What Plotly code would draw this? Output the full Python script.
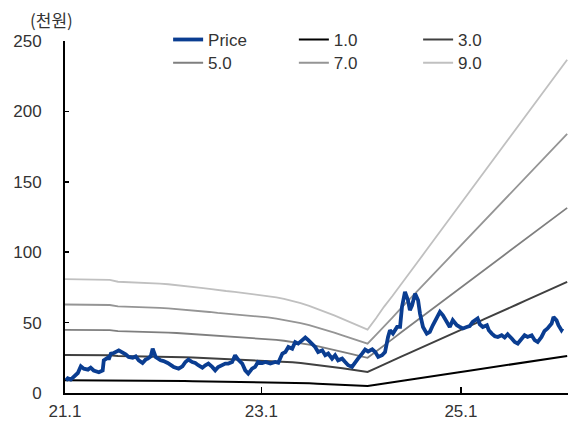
import plotly.graph_objects as go
import pandas as pd

# ---- data ----
price_dates = [
    "2021-01-15", "2021-01-22", "2021-02-02", "2021-02-13", "2021-02-28", "2021-03-11", "2021-03-22",
    "2021-04-06", "2021-04-16", "2021-04-27", "2021-05-16", "2021-05-30", "2021-06-03", "2021-06-18",
    "2021-06-21", "2021-06-29", "2021-07-10", "2021-07-28", "2021-08-11", "2021-08-22", "2021-09-02",
    "2021-09-17", "2021-09-28", "2021-10-09", "2021-10-23", "2021-11-03", "2021-11-11", "2021-11-22",
    "2021-11-29", "2021-12-10", "2021-12-28", "2022-01-08", "2022-01-23", "2022-02-03", "2022-02-14",
    "2022-03-04", "2022-03-18", "2022-03-29", "2022-04-09", "2022-04-23", "2022-05-04", "2022-05-15",
    "2022-05-30", "2022-06-10", "2022-06-21", "2022-07-05", "2022-07-16", "2022-07-27", "2022-08-11",
    "2022-08-22", "2022-09-02", "2022-09-16", "2022-09-27", "2022-10-08", "2022-10-23", "2022-11-03",
    "2022-11-14", "2022-11-28", "2022-12-09", "2022-12-20", "2023-01-05", "2023-01-16", "2023-02-03",
    "2023-02-21", "2023-03-04", "2023-03-19", "2023-03-30", "2023-04-10", "2023-04-24", "2023-05-05",
    "2023-05-16", "2023-05-31", "2023-06-11", "2023-06-22", "2023-07-06", "2023-07-17", "2023-07-28",
    "2023-08-12", "2023-08-23", "2023-09-03", "2023-09-17", "2023-09-28", "2023-10-09", "2023-10-24",
    "2023-11-04", "2023-11-15", "2023-11-29", "2023-12-10", "2023-12-21", "2024-01-05", "2024-01-16",
    "2024-01-27", "2024-02-11", "2024-02-22", "2024-03-04", "2024-03-18", "2024-03-29", "2024-04-09",
    "2024-04-16", "2024-04-27", "2024-05-12", "2024-05-23", "2024-05-30", "2024-06-10", "2024-06-21",
    "2024-06-28", "2024-07-06", "2024-07-17", "2024-07-28", "2024-08-04", "2024-08-15", "2024-08-29",
    "2024-09-09", "2024-09-20", "2024-10-05", "2024-10-16", "2024-10-27", "2024-11-10", "2024-11-21",
    "2024-12-02", "2024-12-17", "2024-12-28", "2025-01-08", "2025-01-22", "2025-02-02", "2025-02-13",
    "2025-02-21", "2025-03-03", "2025-03-11", "2025-03-22", "2025-04-06", "2025-04-13", "2025-04-24",
    "2025-05-05", "2025-05-16", "2025-05-30", "2025-06-10", "2025-06-21", "2025-07-06", "2025-07-17",
    "2025-07-28", "2025-08-11", "2025-08-22", "2025-09-02", "2025-09-17", "2025-09-28", "2025-10-09",
    "2025-10-23", "2025-11-03", "2025-11-14", "2025-11-29", "2025-12-06", "2025-12-17", "2025-12-24",
    "2026-01-04", "2026-01-08",
]
price_values = [
    9.0, 10.4, 9.5, 11.4, 14.2, 19.0, 17.3,
    16.6, 18.0, 16.0, 14.7, 16.0, 23.2, 25.1,
    23.7, 28.0, 28.4, 30.3, 28.9, 27.5, 25.6,
    25.1, 26.0, 23.2, 21.3, 23.7, 24.4, 26.0,
    31.5, 25.6, 23.2, 22.7, 21.3, 19.7, 18.5,
    17.3, 19.0, 22.0, 23.7, 22.0, 21.3, 19.7,
    18.0, 19.7, 20.9, 18.5, 16.1, 18.5, 19.7,
    20.9, 20.9, 22.0, 26.8, 23.7, 20.9, 16.1,
    13.8, 17.3, 18.5, 22.0, 21.3, 22.0, 20.9,
    22.0, 21.5, 28.0, 29.1, 32.7, 31.5, 36.2,
    35.1, 37.9, 39.4, 37.5, 35.1, 32.7, 29.1,
    30.3, 26.8, 28.0, 24.4, 26.8, 23.2, 24.4,
    22.0, 19.7, 18.5, 22.0, 24.4, 28.0, 30.8,
    29.5, 31.0, 29.1, 25.6, 26.8, 29.1, 39.8,
    44.6, 42.2, 46.9, 46.9, 61.1, 71.8, 65.9,
    58.8, 62.3, 70.6, 65.9, 56.4, 46.9, 42.2,
    43.4, 48.1, 54.0, 57.6, 55.2, 50.5, 46.9,
    51.7, 48.1, 46.9, 45.8, 46.9, 47.5, 50.5,
    51.7, 52.9, 48.8, 46.9, 48.1, 44.6, 42.2,
    40.3, 39.8, 41.0, 39.4, 41.7, 38.7, 36.2,
    35.1, 37.9, 41.0, 39.8, 41.0, 37.5, 36.2,
    39.8, 44.1, 45.8, 49.3, 54.0, 51.7, 48.1,
    44.6, 45.8,
]

# book value per share (thousand won), monthly, 2021-01 .. 2026-01
bps_values = [
    8.98, 8.98, 8.97, 8.96, 8.95, 8.93, 8.78, 8.76, 8.74, 8.71, 8.67, 8.63,
    8.58, 8.52, 8.45, 8.38, 8.30, 8.22, 8.12, 8.05, 7.98, 7.90, 7.83, 7.76,
    7.68, 7.55, 7.42, 7.27, 7.10, 6.88, 6.65, 6.40, 6.12, 5.85, 5.55, 5.27,
    5.00, 5.90, 6.80, 7.65, 8.55, 9.45, 10.30, 11.20, 12.10, 13.00, 13.90, 14.75,
    15.65, 16.55, 17.45, 18.30, 19.20, 20.10, 20.95, 21.85, 22.75, 23.60, 24.50, 25.40,
    26.30,
]
bps_dates = [d + pd.Timedelta(days=24) for d in pd.date_range("2021-01-01", periods=len(bps_values), freq="MS")]
bps_dates[0] = pd.Timestamp("2021-01-12")

band_multiples = [1.0, 3.0, 5.0, 7.0, 9.0]
band_names = ["1.0", "3.0", "5.0", "7.0", "9.0"]
band_colors = ["#000000", "#404040", "#7f7f7f", "#959595", "#c0c0c0"]
band_widths = [2, 2, 1.8, 1.8, 1.8]

tick_vals = ["2021-01-12", "2023-01-01", "2025-01-01"]
tick_text = ["21.1", "23.1", "25.1"]

# legend slot for each series: Price, 1.0, 3.0 / 5.0, 7.0, 9.0
legend_ids = ["legend", "legend2", "legend3", "legend4", "legend5", "legend6"]
legend_x = [0.205, 0.455, 0.702, 0.205, 0.455, 0.702]
legend_y = [1.003, 1.003, 1.003, 0.937, 0.937, 0.937]

fig = go.Figure()
for i, (m, name) in enumerate(zip(band_multiples, band_names)):
    fig.add_trace(go.Scatter(
        x=bps_dates, y=[m * b for b in bps_values], mode="lines", name=name,
        line=dict(color=band_colors[i], width=band_widths[i]),
        legend=legend_ids[i + 1],
    ))
fig.add_trace(go.Scatter(
    x=price_dates, y=price_values, mode="lines", name="Price",
    line=dict(color="#0a3d91", width=3.8), legend=legend_ids[0],
))

font_main = "Liberation Sans, Arial, sans-serif"
legend_layout = {}
for lid, lx, ly in zip(legend_ids, legend_x, legend_y):
    legend_layout[lid] = dict(
        x=lx, y=ly, xanchor="left", yanchor="middle", orientation="h",
        font=dict(family=font_main, size=17, color="#333333"),
        bgcolor="rgba(0,0,0,0)", borderwidth=0,
    )

fig.update_layout(
    width=578, height=423,
    margin=dict(l=65, r=10, t=41, b=30, autoexpand=False),
    paper_bgcolor="white", plot_bgcolor="white",
    font=dict(family=font_main, size=17, color="#333333"),
    showlegend=True,
    xaxis=dict(
        type="date", range=["2021-01-12", "2026-01-28"],
        tickvals=tick_vals, ticktext=tick_text,
        ticks="inside", ticklen=6, tickcolor="#000", tickwidth=1.5,
        showline=True, linecolor="#000", linewidth=2,
        showgrid=False, zeroline=False, ticklabelstandoff=2, automargin=False,
    ),
    yaxis=dict(
        range=[0, 250], tickvals=[0, 50, 100, 150, 200, 250],
        ticks="inside", ticklen=4, tickcolor="#000", tickwidth=1.5,
        showline=True, linecolor="#000", linewidth=2,
        showgrid=False, zeroline=False, ticklabelstandoff=18, automargin=False,
    ),
    annotations=[dict(
        text="(천원)", xref="paper", yref="paper", x=-0.027, y=1.021,
        xanchor="center", yanchor="bottom", showarrow=False,
        font=dict(family="Noto Sans CJK KR", size=17, color="#333333"),
    )],
    **legend_layout,
)

fig.write_html(
    "out.html",
    config={"displayModeBar": False, "staticPlot": True},
    post_script="document.body.style.margin='0';",
)
